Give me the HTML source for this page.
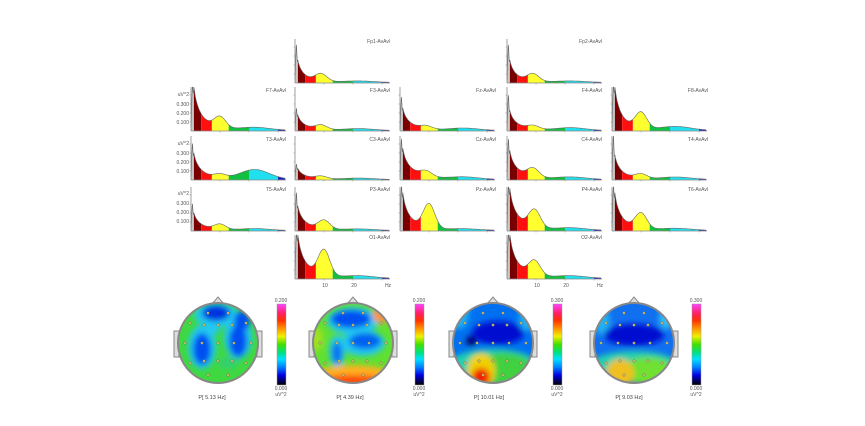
<!DOCTYPE html>
<html><head><meta charset="utf-8">
<style>
html,body{margin:0;padding:0;background:#fff;}
svg{display:block;font-family:"Liberation Sans",sans-serif;}
.l{font-size:5px;fill:#555;}
.t{font-size:5.5px;fill:#444;}
</style></head>
<body>
<svg id="s" width="865" height="426" viewBox="0 0 865 426" xmlns="http://www.w3.org/2000/svg">
<defs>
<linearGradient id="cb" x1="0" y1="0" x2="0" y2="1">
<stop offset="0" stop-color="#ff40ff"/><stop offset="0.12" stop-color="#ff2060"/><stop offset="0.2" stop-color="#ff3000"/>
<stop offset="0.3" stop-color="#ff9000"/><stop offset="0.4" stop-color="#f0f000"/><stop offset="0.5" stop-color="#40e000"/>
<stop offset="0.6" stop-color="#00e080"/><stop offset="0.68" stop-color="#00e0ff"/><stop offset="0.78" stop-color="#0080ff"/>
<stop offset="0.88" stop-color="#0000e0"/><stop offset="1" stop-color="#000000"/>
</linearGradient>
<filter id="bl" x="-50%" y="-50%" width="200%" height="200%"><feGaussianBlur stdDeviation="3"/></filter>
<clipPath id="c1"><circle cx="218" cy="343" r="40"/></clipPath>
<clipPath id="c2"><circle cx="353" cy="343" r="40"/></clipPath>
<clipPath id="c3"><circle cx="493" cy="343" r="40"/></clipPath>
<clipPath id="c4"><circle cx="634" cy="343" r="40"/></clipPath>
</defs>
<g id="spec"></g>

<g class="l" text-anchor="end">
<text x="390" y="43">Fp1-AvAvl</text><text x="602" y="43">Fp2-AvAvl</text>
<text x="286" y="92">F7-AvAvl</text><text x="390" y="92">F3-AvAvl</text><text x="496" y="92">Fz-AvAvl</text><text x="602" y="92">F4-AvAvl</text><text x="708" y="92">F8-AvAvl</text>
<text x="286" y="141">T3-AvAvl</text><text x="390" y="141">C3-AvAvl</text><text x="496" y="141">Cz-AvAvl</text><text x="602" y="141">C4-AvAvl</text><text x="708" y="141">T4-AvAvl</text>
<text x="286" y="191">T5-AvAvl</text><text x="390" y="191">P3-AvAvl</text><text x="496" y="191">Pz-AvAvl</text><text x="602" y="191">P4-AvAvl</text><text x="708" y="191">T6-AvAvl</text>
<text x="390" y="239">O1-AvAvl</text><text x="602" y="239">O2-AvAvl</text>
</g>
<g class="l" text-anchor="end">
<text x="189" y="96">uV^2</text><text x="189" y="106">0.300</text><text x="189" y="115">0.200</text><text x="189" y="124">0.100</text>
<text x="189" y="145">uV^2</text><text x="189" y="155">0.300</text><text x="189" y="164">0.200</text><text x="189" y="173">0.100</text>
<text x="189" y="195">uV^2</text><text x="189" y="205">0.300</text><text x="189" y="214">0.200</text><text x="189" y="223">0.100</text>
</g>
<g class="l" text-anchor="middle">
<text x="325" y="287">10</text><text x="354" y="287">20</text><text x="388" y="287">Hz</text>
<text x="537" y="287">10</text><text x="566" y="287">20</text><text x="600" y="287">Hz</text>
</g>

<g id="topo"></g>
<g class="l" text-anchor="middle">
<text x="281" y="302">0.200</text><text x="281" y="390">0.000</text><text x="281" y="396">uV^2</text>
<text x="419" y="302">0.200</text><text x="419" y="390">0.000</text><text x="419" y="396">uV^2</text>
<text x="557" y="302">0.300</text><text x="557" y="390">0.000</text><text x="557" y="396">uV^2</text>
<text x="696" y="302">0.300</text><text x="696" y="390">0.000</text><text x="696" y="396">uV^2</text>
</g>
<g class="t" text-anchor="middle">
<text x="212" y="399">P[ 5.13 Hz]</text><text x="350" y="399">P[ 4.39 Hz]</text>
<text x="489" y="399">P[ 10.01 Hz]</text><text x="629" y="399">P[ 9.03 Hz]</text>
</g>
</svg>
<script>
var NS="http://www.w3.org/2000/svg";
function el(p,t,a){var e=document.createElementNS(NS,t);for(var k in a)e.setAttribute(k,a[k]);p.appendChild(e);return e;}
var G=document.getElementById('spec');
var cols=[191,295,400,507,612], bases=[83,131,180,231,279];
var ch=[
[1,0,.85,.5,3,.17,9,.03],[3,0,.85,.5,3,.17,9,.03],
[0,1,1,1,3.5,.25,10,.06],[1,1,.5,.35,3.5,.1,9,.04],[2,1,.75,.5,3.5,.07,9,.05],[3,1,.8,.45,3.5,.08,9,.06],[4,1,1,1,3,.36,10,.08],
[0,2,.8,.6,3.5,.08,10,.22],[1,2,.35,.25,3.5,.06,9,.03],[2,2,.9,.7,4.5,.12,9,.05],[3,2,.9,.65,4,.2,9,.05],[4,2,1,.55,3,.1,10,.05],
[0,3,.6,.4,3.5,.12,10,.04],[1,3,.85,.55,3.5,.2,10,.03],[2,3,1,.85,3.5,.55,10,.03],[3,3,1,.95,3.8,.4,9.5,.05],[4,3,1,.85,3.2,.35,10,.04],
[1,4,1,1,3.8,.58,10,.05],[3,4,1,1,3.8,.33,9.5,.05]
];
var H=44, PX=2.9;
var bands=[[0,1,'#c8c8c8'],[1,3.5,'#7a0000'],[3.5,7.2,'#ff1010'],[7.2,13,'#ffff30'],[13,20,'#10c040'],[20,30,'#20e0f0'],[30,32.5,'#2020c0']];
ch.forEach(function(c){
 var x0=cols[c[0]], y0=bases[c[1]];
 function p(f){
  var v;
  if(f<1){v=c[2]*Math.exp(-Math.pow(f-0.45,2)/0.08)+(f>0.45?c[3]*(f-0.45)/0.55:0);}
  else v=c[3]*(0.5*Math.exp(-(f-1)/c[4])+0.5*Math.pow(1+(f-1)/1.5,-1.3))+c[5]*Math.exp(-Math.pow(f-c[6],2)/(2*2*2))+c[7]*Math.exp(-Math.pow(f-22,2)/(2*25))+0.01;
  return Math.min(v,1);
 }
 var line='';
 bands.forEach(function(b){
  var d='M'+(x0+b[0]*PX)+','+y0;
  for(var f=b[0];f<=b[1]+1e-6;f+=0.1){d+=' L'+(x0+f*PX).toFixed(1)+','+(y0-p(f)*H).toFixed(1);}
  d+=' L'+(x0+b[1]*PX)+','+y0+'Z';
  el(G,'path',{d:d,fill:b[2]});
 });
 for(var f=0;f<=32.5;f+=0.1){line+=(f==0?'M':' L')+(x0+f*PX).toFixed(1)+','+(y0-p(f)*H).toFixed(1);}
 el(G,'path',{d:line,fill:'none',stroke:'#666','stroke-width':0.6});
 el(G,'line',{x1:x0,y1:y0-H,x2:x0,y2:y0,stroke:'#888','stroke-width':0.8});
 el(G,'line',{x1:x0,y1:y0,x2:x0+95,y2:y0,stroke:'#888','stroke-width':0.8});
 for(var i=1;i<5;i++)el(G,'line',{x1:x0-1.5,y1:y0-i*9,x2:x0,y2:y0-i*9,stroke:'#888','stroke-width':0.5});
 for(var k=1;k<4;k++)el(G,'line',{x1:x0+k*29,y1:y0,x2:x0+k*29,y2:y0+1.5,stroke:'#888','stroke-width':0.5});
});
var T=document.getElementById('topo');
var heads=[[218,277,'#40d840',[
 [-2,-28,22,12,'#20c8f0'],[-2,-30,14,8,'#0030e0'],
 [-16,4,14,22,'#20c8f0'],[-16,6,9,16,'#0050f0'],
 [20,-6,14,22,'#20c8f0'],[20,-2,9,16,'#0050f0'],[24,-22,8,10,'#0050f0'],
 [-8,-14,10,6,'#20c8f0'],[10,20,10,6,'#30d070']]],
[353,415,'#60e030',[
 [0,-22,26,14,'#20c8f0'],[-2,-24,20,9,'#0050f0'],
 [10,0,22,13,'#20c8f0'],[12,-2,16,8,'#0060f0'],
 [-16,8,8,16,'#20c8f0'],[-16,10,5,11,'#1070f0'],
 [0,36,44,14,'#ffb020'],[0,40,40,8,'#ff5010'],[28,-28,8,8,'#ff9030'],[-36,-4,6,12,'#a0e020']]],
[493,553,'#0070f0',[
 [-34,-30,10,16,'#20b0f0'],[34,-24,8,12,'#20b0f0'],
 [5,-10,26,12,'#0010d0'],[-22,-2,5,5,'#000060'],
 [0,22,44,16,'#20d0b0'],[10,26,30,16,'#40d040'],[-12,28,14,18,'#f0d000'],[-12,34,9,9,'#f02000']]],
[634,692,'#1070f0',[
 [-32,-22,8,14,'#20b0f0'],[32,-24,7,10,'#30c0f0'],
 [0,-8,30,11,'#0010d0'],
 [0,22,44,14,'#20d0b0'],[14,28,26,14,'#70e030'],[-14,30,14,14,'#f0c020']]]];
heads.forEach(function(h,i){
 var cx=h[0],cy=343,bx=+h[1];
 el(T,'path',{d:'M'+(cx-6)+','+(cy-39)+' L'+cx+','+(cy-46)+' L'+(cx+6)+','+(cy-39),fill:'#ddd',stroke:'#888','stroke-width':1});
 el(T,'rect',{x:cx-44,y:cy-12,width:5,height:26,fill:'#ddd',stroke:'#888','stroke-width':1});
 el(T,'rect',{x:cx+39,y:cy-12,width:5,height:26,fill:'#ddd',stroke:'#888','stroke-width':1});
 var g=el(T,'g',{'clip-path':'url(#c'+(i+1)+')'});
 el(g,'rect',{x:cx-42,y:cy-42,width:84,height:84,fill:h[2]});
 var gb=el(g,'g',{filter:'url(#bl)'});
 h[3].forEach(function(b){el(gb,'ellipse',{cx:cx+b[0],cy:cy+b[1],rx:b[2],ry:b[3],fill:b[4]});});
 el(T,'circle',{cx:cx,cy:cy,r:40,fill:'none',stroke:'#888','stroke-width':2});
 var pts=[[-10,-30],[10,-30],[-28,-20],[-14,-18],[0,-18],[14,-18],[28,-20],[-33,0],[-16,0],[0,0],[16,0],[33,0],[-28,20],[-14,18],[0,18],[14,18],[28,20],[-10,32],[10,32]];
 pts.forEach(function(q){el(T,'circle',{cx:cx+q[0],cy:cy+q[1],r:1.3,fill:'#d0c060',stroke:'#666','stroke-width':0.4});});
 el(T,'rect',{x:bx,y:304,width:9,height:81,fill:'url(#cb)',stroke:'#999','stroke-width':0.5});
});
</script>
</body></html>
